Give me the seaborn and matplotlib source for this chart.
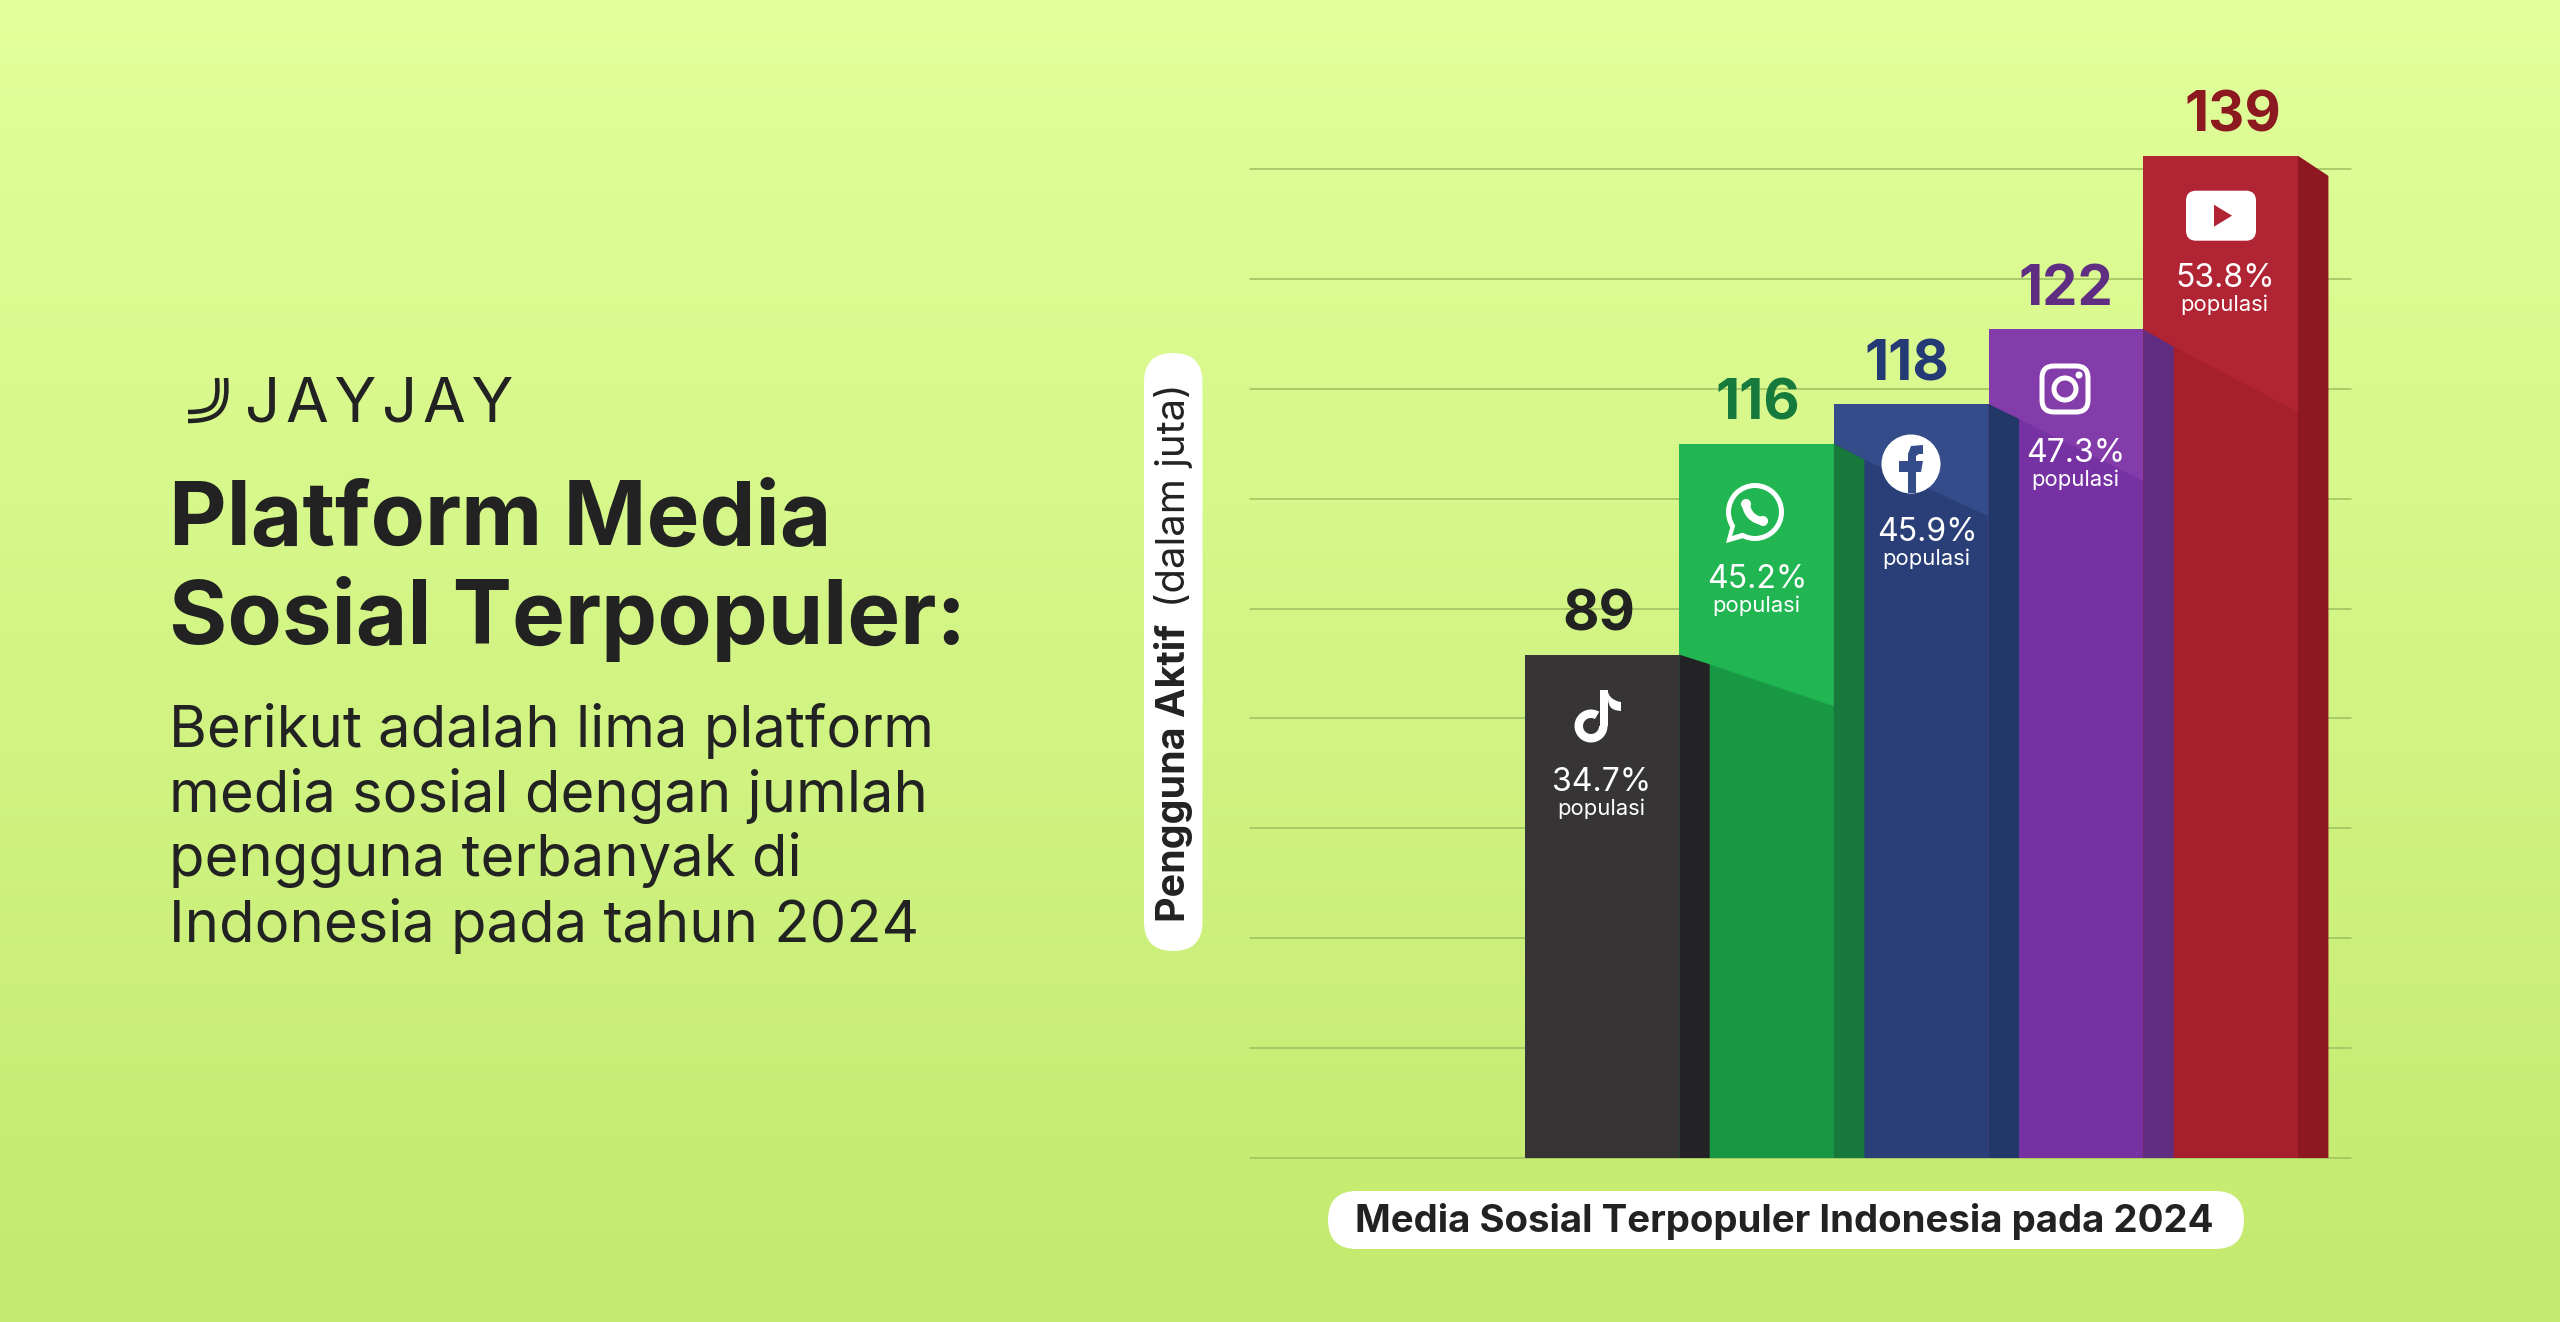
import matplotlib.pyplot as plt
import numpy as np
import pandas as pd
import seaborn as sns
from matplotlib.patches import Circle, FancyBboxPatch, PathPatch, Polygon, Wedge
from matplotlib.path import Path

# values printed on the bars, in millions
platforms = ['TikTok', 'WhatsApp', 'Facebook', 'Instagram', 'YouTube']
users = [89, 116, 118, 122, 139]
population = ['34.7%', '45.2%', '45.9%', '47.3%', '53.8%']

# the bars are not to scale in the original, so heights are read off the gridlines
bar_heights = [4.58, 6.50, 6.86, 7.54, 9.12]
side_drop = [0.088, 0.146, 0.136, 0.159, 0.184]
shadow_drop = [0.47, 0.66, 0.70, 0.75]

front_colors = ['#363435', '#22b652', '#354c8b', '#843cab', '#b02433']
shadow_colors = ['#189845', '#2a3f78', '#7631a3', '#a51f2c']
side_colors = ['#232325', '#17793c', '#223868', '#612d81', '#8d1821']
value_colors = ['#222222', '#177a3d', '#243a74', '#5f2d82', '#8c1820']

W, H = 2560, 1322
DARK = '#222222'
FONT = 'Inter'


def pt(px):
    return px * 72 / 100


def draw_background(fig):
    bg = fig.add_axes([0, 0, 1, 1], zorder=0)
    top, bottom = np.array([226, 255, 155]), np.array([195, 234, 110])
    t = np.linspace(0, 1, 256)[:, None, None]
    bg.imshow((top + (bottom - top) * t) / 255, aspect='auto')
    bg.axis('off')


def draw_bars(fig):
    # axes spans the gridlines, one unit is one grid step
    left, right, base, step = 1250, 2351, 1158, 109.9
    ax = fig.add_axes([left / W, 1 - base / H, (right - left) / W, step * 10 / H], zorder=1)
    ax.patch.set_alpha(0)

    df = pd.DataFrame({'platform': platforms, 'height': bar_heights})
    sns.barplot(data=df, x='platform', y='height', hue='platform', palette=front_colors,
                width=1, saturation=1, legend=False, ax=ax, zorder=2, linewidth=0)

    ax.set_xlim(-2.275, 4.843)
    ax.set_ylim(0, 10)
    ax.set_yticks(range(10))
    ax.grid(False)
    ax.yaxis.grid(True, color='#9dbf60', linewidth=1.1)
    for line in ax.get_ygridlines():
        line.set_clip_on(False)
    ax.set_axisbelow(True)
    ax.tick_params(length=0, labelleft=False, labelbottom=False)
    ax.set_xlabel('')
    ax.set_ylabel('')
    sns.despine(ax=ax, left=True, bottom=True)

    depth = 0.197
    for i, h in enumerate(bar_heights):
        r = i + 0.5
        ax.add_patch(Polygon([(r, 0), (r, h), (r + depth, h - side_drop[i]), (r + depth, 0)],
                             color=side_colors[i], lw=0, zorder=4))
        ax.annotate(str(users[i]), xy=(i, h), xytext=(pt([-3, 1, -4, 0, 12][i]), pt(24)),
                    textcoords='offset points', ha='center', va='baseline', fontsize=pt(56),
                    fontweight='bold', family=FONT, color=value_colors[i], zorder=6)
        if i < len(shadow_drop):
            ax.add_patch(Polygon([(r, 0), (r, h), (r + depth, h - side_drop[i]),
                                  (r + 1, h - shadow_drop[i]), (r + 1, 0)],
                                 color=shadow_colors[i], lw=0, zorder=3))
    return ax


def white_pill(ov, x0, y0, x1, y1):
    rad = min(x1 - x0, y1 - y0) / 2
    ov.add_patch(FancyBboxPatch((x0 + rad, y0 + rad), x1 - x0 - 2 * rad, y1 - y0 - 2 * rad,
                                boxstyle=f'round,pad={rad},rounding_size={rad}',
                                fc='white', ec='none'))


def draw_tiktok(ov, cx, cy):
    c = 'white'
    ov.add_patch(Wedge((cx - 7, cy + 10), 16.5, 0, 300, width=8.5, fc=c, ec='none'))
    ov.add_patch(Polygon([(cx + 1.5, cy - 26), (cx + 9.5, cy - 26), (cx + 9.5, cy + 10), (cx + 1.5, cy + 10)],
                         fc=c, ec='none'))
    verts = [(cx + 9.5, cy - 26), (cx + 11, cy - 15), (cx + 23, cy - 14), (cx + 23, cy - 14),
             (cx + 23, cy - 5), (cx + 12, cy - 6), (cx + 9.5, cy - 9), (cx + 9.5, cy - 26)]
    codes = [Path.MOVETO, Path.CURVE4, Path.CURVE4, Path.CURVE4, Path.LINETO, Path.CURVE4, Path.CURVE4, Path.CLOSEPOLY]
    ov.add_patch(PathPatch(Path(verts, codes), fc=c, ec='none'))


def draw_whatsapp(ov, cx, cy, bg):
    ov.add_patch(Polygon([(cx - 29, cy + 30), (cx - 23, cy + 8), (cx - 8, cy + 24)], fc='white', ec='none'))
    ov.add_patch(Circle((cx, cy - 1), 29, fc='white', ec='none'))
    ov.add_patch(Circle((cx, cy - 1), 24, fc=bg, ec='none'))
    ov.add_patch(Polygon([(cx - 23, cy + 23), (cx - 19, cy + 10), (cx - 10, cy + 19)], fc=bg, ec='none'))
    ov.add_patch(Wedge((cx + 9, cy - 10), 22, 95, 175, width=8, fc='white', ec='none'))
    ov.add_patch(Circle((cx - 9, cy - 9), 5, fc='white', ec='none'))
    ov.add_patch(Circle((cx + 8, cy + 8), 5, fc='white', ec='none'))


def draw_facebook(ov, cx, cy, bg):
    ov.add_patch(Circle((cx, cy), 29.5, fc='white', ec='none'))
    f = [(cx - 3, cy + 29), (cx - 3, cy + 8), (cx - 12, cy + 8), (cx - 12, cy - 3), (cx - 3, cy - 3),
         (cx - 3, cy - 10), (cx, cy - 18), (cx + 12, cy - 19), (cx + 12, cy - 10), (cx + 8, cy - 10),
         (cx + 5, cy - 8), (cx + 5, cy - 3), (cx + 12, cy - 3), (cx + 10, cy + 8), (cx + 5, cy + 8), (cx + 5, cy + 29)]
    ov.add_patch(Polygon(f, fc=bg, ec='none'))


def draw_instagram(ov, cx, cy):
    ov.add_patch(FancyBboxPatch((cx - 14, cy - 14), 28, 28, boxstyle='round,pad=9,rounding_size=12',
                                fc='none', ec='white', lw=pt(5)))
    ov.add_patch(Circle((cx, cy), 11, fc='none', ec='white', lw=pt(5)))
    ov.add_patch(Circle((cx + 14, cy - 14), 3.5, fc='white', ec='none'))


def draw_youtube(ov, cx, cy, bg):
    ov.add_patch(FancyBboxPatch((cx - 24, cy - 14), 48, 28, boxstyle='round,pad=11,rounding_size=10',
                                fc='white', ec='none'))
    ov.add_patch(Polygon([(cx - 7, cy - 11), (cx - 7, cy + 11), (cx + 11, cy)], fc=bg, ec='none'))


def draw_logo(ov):
    for off in (0, 9):
        verts = [(226 - off, 378), (228 - off, 405), (224 - off, 421 - off), (188, 421 - off)]
        ov.add_patch(PathPatch(Path(verts, [Path.MOVETO, Path.CURVE4, Path.CURVE4, Path.CURVE4]),
                               fc='none', ec=DARK, lw=pt(4.5)))
    ov.text(245, 421, 'J\u200aA\u200aY\u200aJ\u200aA\u200aY', fontsize=pt(62), family=[FONT, 'DejaVu Sans'],
            color=DARK, ha='left', va='baseline')


def draw_overlay(fig):
    ov = fig.add_axes([0, 0, 1, 1], zorder=2)
    ov.set_xlim(0, W)
    ov.set_ylim(H, 0)
    ov.axis('off')
    ov.patch.set_alpha(0)

    draw_logo(ov)

    for txt, y in zip(['Platform Media', 'Sosial Terpopuler:'], [544.5, 644.5]):
        ov.text(169, y, txt, fontsize=pt(89), fontweight='bold', family=FONT, color=DARK, va='baseline')
    body = ['Berikut adalah lima platform', 'media sosial dengan jumlah', 'pengguna terbanyak di',
            'Indonesia pada tahun 2024']
    for txt, y in zip(body, [747, 811.7, 876.5, 941.7]):
        ov.text(169, y, txt, fontsize=pt(58), family=FONT, color=DARK, va='baseline')

    # axis captions on white pills
    white_pill(ov, 1144, 353, 1202.5, 951)
    white_pill(ov, 1328, 1191, 2244, 1249)
    ov.text(1185, 922, 'Pengguna Aktif', rotation=90, rotation_mode='anchor', ha='left', va='baseline',
            fontsize=pt(39.5), fontweight='bold', family=FONT, color=DARK)
    ov.text(1185, 607, '(dalam juta)', rotation=90, rotation_mode='anchor', ha='left', va='baseline',
            fontsize=pt(40), family=FONT, color=DARK)
    ov.text(1355, 1232, 'Media Sosial Terpopuler Indonesia pada 2024', ha='left', va='baseline',
            fontsize=pt(38.4), fontweight='bold', family=FONT, color=DARK)

    # percentages inside the bars
    info_x = [1602, 1757, 1927, 2076, 2225]
    info_y = [791, 588, 541, 462, 287]
    for x, y, pct in zip(info_x, info_y, population):
        ov.text(x, y, pct, fontsize=pt(32), family=FONT, color='white', ha='center', va='baseline')
        ov.text(x - 1, y + 24, 'populasi', fontsize=pt(22), family=FONT, color='white', ha='center', va='baseline')

    draw_tiktok(ov, 1598, 716)
    draw_whatsapp(ov, 1755, 513, front_colors[1])
    draw_facebook(ov, 1911, 464, front_colors[2])
    draw_instagram(ov, 2065, 389)
    draw_youtube(ov, 2221, 215.7, front_colors[4])


sns.set_theme(style='white')
plt.rcParams['font.family'] = [FONT, 'DejaVu Sans']

fig = plt.figure(figsize=(W / 100, H / 100), dpi=100)
draw_background(fig)
draw_bars(fig)
draw_overlay(fig)
fig.savefig('out.png', dpi=100)
